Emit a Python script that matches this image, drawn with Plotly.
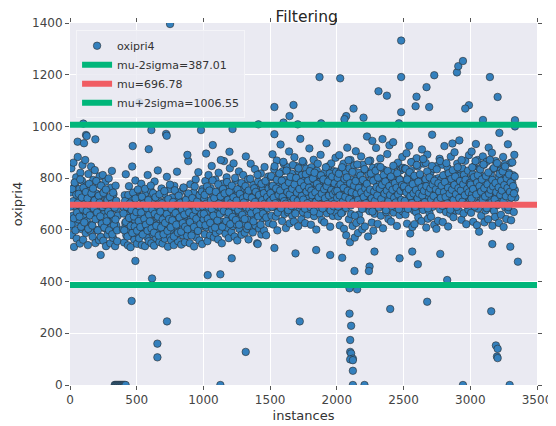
import plotly.graph_objects as go

# ---------------- data ----------------
# dense cloud, block A (instances 0-358)
a_x = [2, 6, 10, 14, 18, 22, 26, 30, 34, 38,
       42, 46, 50, 54, 58, 62, 66, 70, 74, 78,
       82, 86, 90, 94, 98, 102, 106, 110, 114, 118,
       122, 126, 130, 134, 138, 142, 146, 150, 154, 158,
       162, 166, 170, 174, 178, 182, 186, 190, 194, 198,
       202, 206, 210, 214, 218, 222, 226, 230, 234, 238,
       242, 246, 250, 254, 258, 262, 266, 270, 274, 278,
       282, 286, 290, 294, 298, 302, 306, 310, 314, 318,
       322, 326, 330, 334, 338, 342, 346, 350, 354, 358,
       5, 11, 17, 23, 29, 35, 41, 47, 53, 59,
       65, 71, 77, 83, 89, 95, 101, 107, 113, 119,
       125, 131, 137, 143, 149, 155, 161, 167, 173, 179,
       185, 191, 197, 203, 209, 215, 221, 227, 233, 239,
       245, 251, 257, 263, 269, 275, 281, 287, 293, 299,
       305, 311, 317, 323, 329, 335, 341, 347, 353]
a_y = [612, 745, 838, 580, 701, 655, 860, 534, 689, 772,
       628, 803, 566, 717, 882, 641, 695, 758, 547, 821,
       674, 603, 790, 851, 562, 733, 648, 712, 870, 588,
       769, 635, 702, 541, 816, 683, 752, 597, 664, 845,
       620, 728, 573, 793, 657, 706, 831, 549, 686, 741,
       599, 778, 645, 716, 560, 807, 668, 573, 736, 624,
       695, 812, 558, 662, 749, 606, 787, 537, 720, 651,
       582, 703, 799, 631, 676, 548, 763, 612, 828, 690,
       569, 738, 645, 702, 537, 771, 618, 680, 556, 655,
       690, 622, 758, 711, 645, 783, 598, 736, 667, 704,
       739, 651, 795, 612, 725, 680, 763, 629, 700, 746,
       672, 721, 604, 778, 656, 693, 741, 617, 760, 683,
       714, 641, 789, 667, 598, 732, 705, 652, 771, 624,
       688, 743, 609, 697, 756, 633, 715, 672, 598, 727,
       660, 701, 583, 744, 619, 686, 640, 712, 598]

# block B (instances 398-998)
b_x = [398, 402, 406, 410, 414, 418, 422, 426, 430, 434,
       438, 442, 446, 450, 454, 458, 462, 466, 470, 474,
       478, 482, 486, 490, 494, 498, 502, 506, 510, 514,
       518, 522, 526, 530, 534, 538, 542, 546, 550, 554,
       558, 562, 566, 570, 574, 578, 582, 586, 590, 594,
       598, 602, 606, 610, 614, 618, 622, 626, 630, 634,
       638, 642, 646, 650, 654, 658, 662, 666, 670, 674,
       678, 682, 686, 690, 694, 698, 702, 706, 710, 714,
       718, 722, 726, 730, 734, 738, 742, 746, 750, 754,
       758, 762, 766, 770, 774, 778, 782, 786, 790, 794,
       798, 802, 806, 810, 814, 818, 822, 826, 830, 834,
       838, 842, 846, 850, 854, 858, 862, 866, 870, 874,
       878, 882, 886, 890, 894, 898, 902, 906, 910, 914,
       918, 922, 926, 930, 934, 938, 942, 946, 950, 954,
       958, 962, 966, 970, 974, 978, 982, 986, 990, 994, 998,
       401, 407, 413, 419, 425, 431, 437, 443, 449, 455,
       461, 467, 473, 479, 485, 491, 497, 503, 509, 515,
       521, 527, 533, 539, 545, 551, 557, 563, 569, 575,
       581, 587, 593, 599, 605, 611, 617, 623, 629, 635,
       641, 647, 653, 659, 665, 671, 677, 683, 689, 695,
       701, 707, 713, 719, 725, 731, 737, 743, 749, 755,
       761, 767, 773, 779, 785, 791, 797, 803, 809, 815,
       821, 827, 833, 839, 845, 851, 857, 863, 869, 875,
       881, 887, 893, 899, 905, 911, 917, 923, 929, 935,
       941, 947, 953, 959, 965, 971, 977, 983, 989, 995]
b_y = [602, 688, 551, 734, 627, 815, 579, 663, 712, 540,
       645, 769, 596, 681, 533, 722, 618, 845, 657, 574,
       703, 562, 638, 791, 589, 672, 546, 749, 611, 690,
       567, 726, 652, 598, 778, 541, 683, 620, 709, 585,
       661, 537, 742, 604, 690, 572, 812, 633, 556, 718,
       594, 676, 751, 548, 629, 705, 583, 660, 539, 787,
       614, 695, 568, 734, 646, 830, 591, 672, 553, 709,
       637, 581, 760, 619, 547, 688, 603, 739, 566, 654,
       712, 589, 805, 642, 535, 676, 618, 757, 574, 697,
       560, 649, 725, 596, 681, 541, 770, 628, 702, 583,
       665, 825, 607, 556, 719, 640, 588, 746, 671, 543,
       698, 615, 579, 762, 634, 687, 552, 713, 599, 655,
       577, 731, 866, 620, 693, 548, 776, 641, 608, 720,
       663, 587, 744, 536, 701, 622, 795, 571, 680, 648,
       596, 823, 707, 559, 674, 739, 612, 689, 545, 758, 630,
       663, 598, 712, 631, 689, 574, 735, 646, 702, 615,
       677, 588, 744, 652, 613, 721, 669, 597, 756, 634,
       690, 611, 667, 728, 582, 701, 643, 759, 620, 684,
       597, 715, 658, 633, 771, 605, 679, 742, 589, 662,
       726, 616, 694, 651, 578, 738, 671, 609, 703, 640,
       583, 750, 627, 688, 661, 596, 719, 642, 775, 610,
       681, 637, 708, 574, 753, 665, 620, 697, 589, 732,
       648, 705, 593, 679, 626, 764, 659, 612, 716, 685,
       602, 741, 667, 630, 699, 578, 723, 655, 611, 768,
       676, 643, 710, 596, 687, 734, 622, 661, 748, 690]

# block C (instances 1002-1498)
c_x = [1002, 1006, 1010, 1014, 1018, 1022, 1026, 1030, 1034, 1038,
       1042, 1046, 1050, 1054, 1058, 1062, 1066, 1070, 1074, 1078,
       1082, 1086, 1090, 1094, 1098, 1102, 1106, 1110, 1114, 1118,
       1122, 1126, 1130, 1134, 1138, 1142, 1146, 1150, 1154, 1158,
       1162, 1166, 1170, 1174, 1178, 1182, 1186, 1190, 1194, 1198,
       1202, 1206, 1210, 1214, 1218, 1222, 1226, 1230, 1234, 1238,
       1242, 1246, 1250, 1254, 1258, 1262, 1266, 1270, 1274, 1278,
       1282, 1286, 1290, 1294, 1298, 1302, 1306, 1310, 1314, 1318,
       1322, 1326, 1330, 1334, 1338, 1342, 1346, 1350, 1354, 1358,
       1362, 1366, 1370, 1374, 1378, 1382, 1386, 1390, 1394, 1398,
       1402, 1406, 1410, 1414, 1418, 1422, 1426, 1430, 1434, 1438,
       1442, 1446, 1450, 1454, 1458, 1462, 1466, 1470, 1474, 1478,
       1482, 1486, 1490, 1494, 1498,
       1003, 1009, 1015, 1021, 1027, 1033, 1039, 1045, 1051, 1057,
       1063, 1069, 1075, 1081, 1087, 1093, 1099, 1105, 1111, 1117,
       1123, 1129, 1135, 1141, 1147, 1153, 1159, 1165, 1171, 1177,
       1183, 1189, 1195, 1201, 1207, 1213, 1219, 1225, 1231, 1237,
       1243, 1249, 1255, 1261, 1267, 1273, 1279, 1285, 1291, 1297,
       1303, 1309, 1315, 1321, 1327, 1333, 1339, 1345, 1351, 1357,
       1363, 1369, 1375, 1381, 1387, 1393, 1399, 1405, 1411, 1417,
       1423, 1429, 1435, 1441, 1447, 1453, 1459, 1465, 1471, 1477,
       1483, 1489, 1495]
c_y = [641, 722, 583, 789, 667, 610, 748, 556, 695, 812,
       632, 704, 579, 761, 688, 847, 603, 726, 659, 571,
       715, 640, 794, 588, 672, 739, 614, 563, 821, 686,
       597, 753, 664, 712, 548, 778, 631, 699, 866, 620,
       742, 585, 677, 803, 609, 724, 655, 568, 771, 838,
       636, 701, 592, 748, 682, 615, 857, 729, 574, 665,
       790, 622, 708, 559, 743, 671, 826, 603, 689, 764,
       646, 581, 735, 697, 812, 627, 760, 589, 718, 884,
       672, 604, 749, 795, 563, 688, 731, 643, 856, 611,
       727, 680, 590, 774, 652, 711, 835, 617, 698, 756,
       548, 663, 787, 725, 604, 739, 673, 818, 582, 701,
       645, 762, 694, 598, 843, 717, 655, 579, 776, 733,
       688, 806, 626, 751, 699,
       662, 735, 618, 701, 768, 643, 689, 752, 627, 714,
       680, 791, 655, 723, 609, 747, 694, 636, 776, 702,
       661, 729, 685, 612, 758, 673, 741, 698, 634, 785,
       716, 667, 747, 622, 704, 771, 650, 726, 689, 801,
       638, 713, 757, 676, 620, 739, 695, 781, 658, 722,
       706, 642, 769, 687, 731, 615, 752, 679, 798, 664,
       724, 690, 633, 761, 708, 747, 671, 813, 652, 735,
       696, 620, 778, 715, 663, 742, 701, 789, 648, 727,
       684, 760, 709]

# block D (instances 1502-1998)
d_x = [1502, 1506, 1510, 1514, 1518, 1522, 1526, 1530, 1534, 1538,
       1542, 1546, 1550, 1554, 1558, 1562, 1566, 1570, 1574, 1578,
       1582, 1586, 1590, 1594, 1598, 1602, 1606, 1610, 1614, 1618,
       1622, 1626, 1630, 1634, 1638, 1642, 1646, 1650, 1654, 1658,
       1662, 1666, 1670, 1674, 1678, 1682, 1686, 1690, 1694, 1698,
       1702, 1706, 1710, 1714, 1718, 1722, 1726, 1730, 1734, 1738,
       1742, 1746, 1750, 1754, 1758, 1762, 1766, 1770, 1774, 1778,
       1782, 1786, 1790, 1794, 1798, 1802, 1806, 1810, 1814, 1818,
       1822, 1826, 1830, 1834, 1838, 1842, 1846, 1850, 1854, 1858,
       1862, 1866, 1870, 1874, 1878, 1882, 1886, 1890, 1894, 1898,
       1902, 1906, 1910, 1914, 1918, 1922, 1926, 1930, 1934, 1938,
       1942, 1946, 1950, 1954, 1958, 1962, 1966, 1970, 1974, 1978,
       1982, 1986, 1990, 1994, 1998,
       1503, 1509, 1515, 1521, 1527, 1533, 1539, 1545, 1551, 1557,
       1563, 1569, 1575, 1581, 1587, 1593, 1599, 1605, 1611, 1617,
       1623, 1629, 1635, 1641, 1647, 1653, 1659, 1665, 1671, 1677,
       1683, 1689, 1695, 1701, 1707, 1713, 1719, 1725, 1731, 1737,
       1743, 1749, 1755, 1761, 1767, 1773, 1779, 1785, 1791, 1797,
       1803, 1809, 1815, 1821, 1827, 1833, 1839, 1845, 1851, 1857,
       1863, 1869, 1875, 1881, 1887, 1893, 1899, 1905, 1911, 1917,
       1923, 1929, 1935, 1941, 1947, 1953, 1959, 1965, 1971, 1977,
       1983, 1989, 1995]
d_y = [712, 803, 655, 768, 892, 621, 740, 834, 687, 759,
       651, 726, 868, 598, 781, 702, 815, 674, 745, 930,
       689, 762, 634, 827, 717, 856, 661, 793, 738, 607,
       776, 709, 842, 668, 752, 903, 625, 731, 799, 684,
       818, 655, 744, 769, 632, 881, 723, 690, 847, 761,
       702, 787, 614, 826, 735, 678, 952, 756, 641, 812,
       745, 668, 860, 719, 791, 626, 774, 837, 697, 730,
       659, 803, 748, 915, 681, 767, 620, 842, 712, 784,
       736, 871, 653, 795, 707, 748, 601, 829, 765, 688,
       812, 724, 663, 785, 890, 741, 638, 758, 806, 695,
       752, 629, 823, 708, 776, 935, 664, 799, 731, 846,
       683, 770, 612, 742, 857, 718, 795, 654, 763, 827,
       701, 748, 879, 667, 786,
       742, 808, 689, 771, 725, 846, 703, 760, 794, 667,
       735, 818, 752, 684, 790, 727, 863, 711, 768, 701,
       829, 746, 676, 783, 737, 805, 692, 759, 851, 720,
       776, 663, 801, 744, 712, 838, 758, 695, 784, 731,
       866, 717, 769, 682, 815, 748, 703, 790, 763, 827,
       688, 752, 734, 799, 671, 821, 745, 709, 778, 856,
       726, 764, 697, 811, 740, 683, 795, 757, 722, 842,
       769, 700, 787, 733, 818, 675, 754, 806, 738, 691,
       780, 749, 825]

# block E (instances 2002-2498)
e_x = [2002, 2006, 2010, 2014, 2018, 2022, 2026, 2030, 2034, 2038,
       2042, 2046, 2050, 2054, 2058, 2062, 2066, 2070, 2074, 2078,
       2082, 2086, 2090, 2094, 2098, 2102, 2106, 2110, 2114, 2118,
       2122, 2126, 2130, 2134, 2138, 2142, 2146, 2150, 2154, 2158,
       2162, 2166, 2170, 2174, 2178, 2182, 2186, 2190, 2194, 2198,
       2202, 2206, 2210, 2214, 2218, 2222, 2226, 2230, 2234, 2238,
       2242, 2246, 2250, 2254, 2258, 2262, 2266, 2270, 2274, 2278,
       2282, 2286, 2290, 2294, 2298, 2302, 2306, 2310, 2314, 2318,
       2322, 2326, 2330, 2334, 2338, 2342, 2346, 2350, 2354, 2358,
       2362, 2366, 2370, 2374, 2378, 2382, 2386, 2390, 2394, 2398,
       2402, 2406, 2410, 2414, 2418, 2422, 2426, 2430, 2434, 2438,
       2442, 2446, 2450, 2454, 2458, 2462, 2466, 2470, 2474, 2478,
       2482, 2486, 2490, 2494, 2498,
       2003, 2009, 2015, 2021, 2027, 2033, 2039, 2045, 2051, 2057,
       2063, 2069, 2075, 2081, 2087, 2093, 2099, 2105, 2111, 2117,
       2123, 2129, 2135, 2141, 2147, 2153, 2159, 2165, 2171, 2177,
       2183, 2189, 2195, 2201, 2207, 2213, 2219, 2225, 2231, 2237,
       2243, 2249, 2255, 2261, 2267, 2273, 2279, 2285, 2291, 2297,
       2303, 2309, 2315, 2321, 2327, 2333, 2339, 2345, 2351, 2357,
       2363, 2369, 2375, 2381, 2387, 2393, 2399, 2405, 2411, 2417,
       2423, 2429, 2435, 2441, 2447, 2453, 2459, 2465, 2471, 2477,
       2483, 2489, 2495]
e_y = [724, 801, 652, 768, 889, 617, 745, 830, 693, 757,
       668, 735, 856, 604, 782, 711, 824, 579, 746, 918,
       693, 763, 641, 838, 552, 870, 661, 794, 738, 615,
       781, 711, 849, 570, 756, 904, 627, 733, 802, 588,
       821, 659, 748, 774, 636, 884, 726, 602, 852, 763,
       708, 789, 613, 829, 739, 682, 961, 757, 574, 815,
       749, 672, 868, 715, 793, 628, 944, 840, 597, 731,
       662, 806, 752, 917, 686, 769, 623, 845, 716, 788,
       740, 876, 655, 797, 710, 951, 606, 833, 768, 691,
       815, 727, 668, 789, 893, 744, 642, 760, 927, 698,
       754, 632, 826, 712, 778, 939, 667, 802, 734, 849,
       687, 773, 615, 745, 860, 721, 798, 657, 766, 830,
       704, 751, 882, 671, 789,
       751, 690, 817, 733, 776, 664, 842, 709, 762, 797,
       728, 685, 803, 751, 869, 719, 780, 694, 746, 824,
       707, 771, 655, 789, 740, 853, 716, 762, 698, 810,
       745, 681, 793, 727, 835, 760, 703, 778, 742, 866,
       694, 756, 818, 722, 671, 790, 748, 712, 829, 765,
       733, 802, 686, 759, 843, 719, 774, 697, 812, 740,
       787, 676, 752, 828, 711, 769, 735, 806, 692, 755,
       848, 724, 781, 706, 763, 819, 737, 680, 794, 751,
       716, 773, 840]

# block F (instances 2502-2998)
f_x = [2502, 2506, 2510, 2514, 2518, 2522, 2526, 2530, 2534, 2538,
       2542, 2546, 2550, 2554, 2558, 2562, 2566, 2570, 2574, 2578,
       2582, 2586, 2590, 2594, 2598, 2602, 2606, 2610, 2614, 2618,
       2622, 2626, 2630, 2634, 2638, 2642, 2646, 2650, 2654, 2658,
       2662, 2666, 2670, 2674, 2678, 2682, 2686, 2690, 2694, 2698,
       2702, 2706, 2710, 2714, 2718, 2722, 2726, 2730, 2734, 2738,
       2742, 2746, 2750, 2754, 2758, 2762, 2766, 2770, 2774, 2778,
       2782, 2786, 2790, 2794, 2798, 2802, 2806, 2810, 2814, 2818,
       2822, 2826, 2830, 2834, 2838, 2842, 2846, 2850, 2854, 2858,
       2862, 2866, 2870, 2874, 2878, 2882, 2886, 2890, 2894, 2898,
       2902, 2906, 2910, 2914, 2918, 2922, 2926, 2930, 2934, 2938,
       2942, 2946, 2950, 2954, 2958, 2962, 2966, 2970, 2974, 2978,
       2982, 2986, 2990, 2994, 2998,
       2503, 2509, 2515, 2521, 2527, 2533, 2539, 2545, 2551, 2557,
       2563, 2569, 2575, 2581, 2587, 2593, 2599, 2605, 2611, 2617,
       2623, 2629, 2635, 2641, 2647, 2653, 2659, 2665, 2671, 2677,
       2683, 2689, 2695, 2701, 2707, 2713, 2719, 2725, 2731, 2737,
       2743, 2749, 2755, 2761, 2767, 2773, 2779, 2785, 2791, 2797,
       2803, 2809, 2815, 2821, 2827, 2833, 2839, 2845, 2851, 2857,
       2863, 2869, 2875, 2881, 2887, 2893, 2899, 2905, 2911, 2917,
       2923, 2929, 2935, 2941, 2947, 2953, 2959, 2965, 2971, 2977,
       2983, 2989, 2995]
f_y = [764, 700, 837, 659, 752, 896, 624, 775, 808, 731,
       925, 753, 586, 831, 718, 789, 611, 863, 742, 675,
       622, 745, 801, 668, 877, 729, 845, 648, 770, 700,
       695, 809, 740, 634, 911, 763, 677, 856, 718, 788,
       770, 859, 609, 733, 891, 643, 781, 755, 666, 828,
       822, 651, 764, 968, 689, 746, 836, 620, 796, 715,
       738, 604, 847, 782, 635, 800, 722, 875, 679, 756,
       795, 723, 852, 630, 776, 693, 924, 759, 813, 669,
       698, 775, 840, 613, 758, 717, 804, 662, 883, 747,
       705, 934, 767, 649, 751, 900, 796, 675, 734, 822,
       856, 741, 809, 674, 946, 785, 719, 833, 639, 761,
       837, 773, 664, 805, 728, 867, 752, 622, 780, 694,
       796, 678, 889, 758, 711,
       768, 712, 836, 745, 795, 681, 758, 823, 730, 862,
       704, 777, 741, 809, 689, 754, 851, 722, 786, 740,
       815, 698, 764, 733, 874, 751, 707, 796, 769, 826,
       683, 744, 803, 760, 718, 847, 775, 731, 790, 699,
       757, 834, 712, 780, 748, 866, 724, 770, 693, 811,
       746, 785, 727, 858, 702, 763, 819, 740, 678, 797,
       755, 831, 716, 774, 806, 738, 689, 842, 761, 723,
       789, 752, 870, 709, 776, 813, 734, 794, 697, 758,
       829, 745, 781]

# block G (instances 3002-3338)
g_x = [3002, 3006, 3010, 3014, 3018, 3022, 3026, 3030, 3034, 3038,
       3042, 3046, 3050, 3054, 3058, 3062, 3066, 3070, 3074, 3078,
       3082, 3086, 3090, 3094, 3098, 3102, 3106, 3110, 3114, 3118,
       3122, 3126, 3130, 3134, 3138, 3142, 3146, 3150, 3154, 3158,
       3162, 3166, 3170, 3174, 3178, 3182, 3186, 3190, 3194, 3198,
       3202, 3206, 3210, 3214, 3218, 3222, 3226, 3230, 3234, 3238,
       3242, 3246, 3250, 3254, 3258, 3262, 3266, 3270, 3274, 3278,
       3282, 3286, 3290, 3294, 3298, 3302, 3306, 3310, 3314, 3318,
       3322, 3326, 3330, 3334, 3338,
       3003, 3009, 3015, 3021, 3027, 3033, 3039, 3045, 3051, 3057,
       3063, 3069, 3075, 3081, 3087, 3093, 3099, 3105, 3111, 3117,
       3123, 3129, 3135, 3141, 3147, 3153, 3159, 3165, 3171, 3177,
       3183, 3189, 3195, 3201, 3207, 3213, 3219, 3225, 3231, 3237,
       3243, 3249, 3255, 3261, 3267, 3273, 3279, 3285, 3291, 3297,
       3303, 3309, 3315, 3321, 3327, 3333]
g_y = [782, 666, 903, 738, 815, 631, 844, 759, 707, 771,
       932, 749, 618, 870, 682, 796, 593, 838, 760, 725,
       655, 808, 777, 884, 707, 852, 629, 736, 675, 752,
       863, 702, 795, 641, 918, 725, 770, 684, 816, 747,
       898, 616, 835, 777, 673, 762, 650, 866, 740, 788,
       843, 696, 803, 627, 975, 722, 829, 658, 771, 753,
       729, 882, 611, 763, 854, 686, 807, 642, 789, 745,
       931, 676, 820, 700, 766, 859, 637, 802, 783, 730,
       811, 669, 890, 754, 725,
       775, 721, 842, 758, 804, 690, 866, 737, 783, 812,
       702, 769, 834, 748, 795, 716, 853, 761, 729, 808,
       684, 776, 822, 740, 871, 755, 707, 793, 768, 839,
       718, 781, 746, 858, 699, 764, 817, 735, 790, 752,
       826, 711, 773, 845, 730, 799, 762, 688, 814, 747,
       783, 725, 861, 769, 741, 806]

# isolated points above / below the cloud
out_x = [750, 520, 100, 1532, 1675, 1645, 1600, 1412, 120, 610, 720, 982, 1218, 1532,
         1870, 2025, 2482, 2482, 2482, 2465, 2312, 2375, 2730, 2672, 2597, 2590, 2692,
         2900, 2910, 2945, 2990, 2962, 3147, 3205, 3095, 3335, 3335, 2125, 2070, 2057,
         2200, 1882, 1707, 57, 105, 125, 190, 470, 590, 725, 880, 1020, 1070, 1195, 1130,
         615, 462, 727, 655, 655, 1317, 1722, 2095, 2152, 2095, 2107, 2100, 2100, 2107,
         2120, 2100, 2120, 2120, 2400, 2677, 2827, 3157, 3192, 3205, 3200, 3205, 1032,
         1127, 490, 1212, 3357, 2132, 2245, 2240, 2470, 2607, 2775, 1690, 1845, 1950,
         2040, 230, 1407, 1532, 2282, 2565, 3165, 3300]
out_y = [1396, 1093, 1011, 1075, 1083, 1040, 1015, 1008, 967, 986, 971, 986, 990, 970,
         1191, 1186, 1332, 1191, 1055, 1012, 1136, 1119, 1198, 1152, 1115, 1078, 1075,
         1209, 1233, 1253, 1082, 1069, 1191, 1114, 1025, 1024, 1000, 1069, 1040, 1028,
         1034, 1012, 1008, 941, 935, 963, 950, 924, 912, 964, 890, 895, 928, 902, 870,
         412, 325, 246, 160, 107, 128, 246, 374, 370, 276, 229, 174, 128, 122,
         102, 99, 96, 55, 294, 322, 406, 285, 153, 140, 110, 104, 425,
         428, 480, 490, 477, 441, 458, 441, 490, 467, 507, 509, 522, 503,
         492, 503, 545, 530, 516, 516, 545, 535]

# instances whose value is zero
zero_x = [335, 340, 345, 350, 355, 360, 365, 370, 375, 380, 385, 390, 395, 400,
          405, 410, 417, 1127, 2120, 2207, 2945, 3295]
zero_y = [0] * len(zero_x)

mu_minus = 387.01
mu = 696.78
mu_plus = 1006.55
x_span = [0, 3500]

# ---------------- figure ----------------
xs, ys = [], []
for px, py in [(a_x, a_y), (b_x, b_y), (c_x, c_y), (d_x, d_y), (e_x, e_y),
               (f_x, f_y), (g_x, g_y), (out_x, out_y), (zero_x, zero_y)]:
    n = min(len(px), len(py))
    xs += px[:n]
    ys += py[:n]

BLUE = "#3480bd"
GREEN = "#00b67a"
RED = "#f05d63"
FONT = "DejaVu Sans"

fig = go.Figure()
fig.add_trace(go.Scatter(
    x=xs, y=ys, mode="markers", name="oxipri4",
    marker=dict(size=7.5, color=BLUE, line=dict(color="#2b2b2b", width=0.6)),
))
fig.add_trace(go.Scatter(x=x_span, y=[mu_minus, mu_minus], mode="lines",
                         name="mu-2sigma=%.2f" % mu_minus,
                         line=dict(color=GREEN, width=6)))
fig.add_trace(go.Scatter(x=x_span, y=[mu, mu], mode="lines",
                         name="mu=%.2f" % mu,
                         line=dict(color=RED, width=6)))
fig.add_trace(go.Scatter(x=x_span, y=[mu_plus, mu_plus], mode="lines",
                         name="mu+2sigma=%.2f" % mu_plus,
                         line=dict(color=GREEN, width=6)))

axis_common = dict(
    showgrid=True, gridcolor="white", gridwidth=1.2, zeroline=False,
    showline=True, linecolor="rgba(0,0,0,0)", linewidth=1,
    ticks="outside", ticklen=4, tickwidth=1, tickcolor="#555555",
    mirror="ticks", automargin=False,
    tickfont=dict(family=FONT, size=12, color="#444444"),
)

# the page body adds an 8px offset, so the figure is 8px smaller on each axis
fig.update_layout(
    width=548, height=418,
    margin=dict(l=62, r=19, t=15, b=41),
    paper_bgcolor="white", plot_bgcolor="#eaeaf2",
    font=dict(family=FONT, color="#333333"),
    title=dict(text="Filtering", x=0.545, xanchor="center",
               yref="container", y=1.0, yanchor="top", pad=dict(t=3, b=0),
               font=dict(family=FONT, size=15.5, color="#262626")),
    xaxis=dict(range=[0, 3500], tickvals=[0, 500, 1000, 1500, 2000, 2500, 3000, 3500],
               title=dict(text="instances", standoff=4,
                          font=dict(family=FONT, size=13, color="#333333")),
               **axis_common),
    yaxis=dict(range=[0, 1400], tickvals=[0, 200, 400, 600, 800, 1000, 1200, 1400],
               title=dict(text="oxipri4", standoff=6,
                          font=dict(family=FONT, size=13, color="#333333")),
               **axis_common),
    legend=dict(x=0.013, y=0.98, xanchor="left", yanchor="top",
                bgcolor="rgba(234,234,242,0.85)", bordercolor="#f4f4f8", borderwidth=1,
                font=dict(family=FONT, size=11, color="#333333"),
                tracegroupgap=0, itemwidth=30),
    showlegend=True,
)

fig.write_html("out.html")
